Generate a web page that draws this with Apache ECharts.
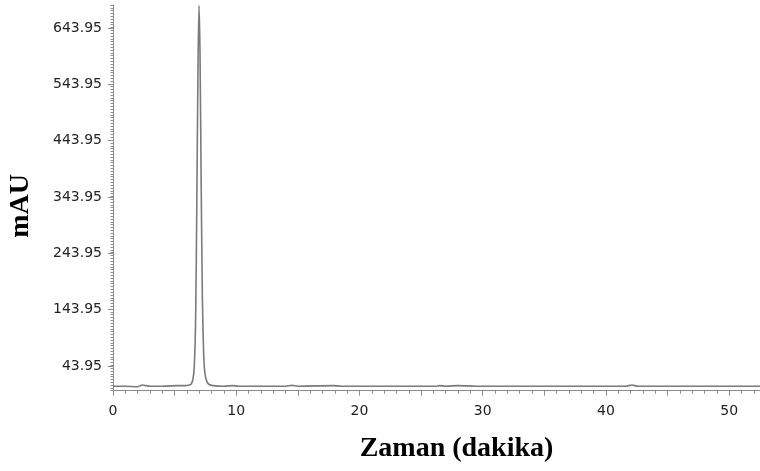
<!DOCTYPE html>
<html>
<head>
<meta charset="utf-8">
<title>Kromatogram</title>
<script src="https://cdn.jsdelivr.net/npm/echarts@6/dist/echarts.min.js"></script>
<style>
  html, body { margin: 0; padding: 0; background: #ffffff; }
  #chart { width: 760px; height: 471px; }
</style>
</head>
<body>
<div id="chart"></div>
<script>
// Retention time (min) and detector response (mAU)
var times = [0, 1.0, 2.0, 2.2, 2.4, 2.7, 3.0, 4.0, 5.3, 5.8, 6.2, 6.35, 6.5, 6.6, 6.7, 6.8,
             6.9, 6.98, 7.06, 7.15, 7.25, 7.35, 7.45, 7.6, 7.8, 8.1, 9.0, 9.7, 10.2, 12.0,
             14.0, 14.5, 15.0, 17.9, 18.5, 22.0, 26.2, 26.5, 27.0, 28.0, 29.5, 30.0, 35.0,
             41.6, 42.1, 42.6, 45.0, 50.0, 52.5];
var mAU   = [8, 8, 7, 9, 10, 9, 8, 8, 9, 9, 10, 12, 22, 45, 120, 330,
             580, 684, 600, 380, 170, 70, 32, 17, 11, 9, 8, 9, 8, 8,
             8, 9.5, 8, 9, 8, 8, 8, 9, 8, 9, 8, 8, 8,
             8, 10, 8, 8, 8, 8];

// Axis tick labels
var yLabels = [43.95, 143.95, 243.95, 343.95, 443.95, 543.95, 643.95];
var xLabels = [0, 10, 20, 30, 40, 50];
var xMidTicks = [0, 5, 10, 15, 20, 25, 30, 35, 40, 45, 50];

var points = times.map(function (t, i) { return [t, mAU[i]]; });

var axisGray = '#8c8c8c';
var labelStyle = { fontFamily: 'DejaVu Sans', fontSize: 14, color: '#222' };
var titleStyle = { fontFamily: 'Liberation Serif', fontWeight: 'bold', fontSize: 28, color: '#000' };

var chart = echarts.init(document.getElementById('chart'), null, { renderer: 'canvas' });
chart.setOption({
  animation: false,
  backgroundColor: '#ffffff',
  grid: { left: 113, right: 0, top: 5, bottom: 80.3, containLabel: false, outerBoundsMode: 'none' },
  xAxis: [
    {
      type: 'value', min: 0, max: 52.5, position: 'bottom',
      name: 'Zaman (dakika)', nameLocation: 'middle', nameGap: 44,
      nameTextStyle: Object.assign({ padding: [0, 0, 0, 40] }, titleStyle),
      axisLine: { show: true, lineStyle: { color: axisGray, width: 1 } },
      axisTick: { show: true, customValues: xMidTicks, length: 5, lineStyle: { color: axisGray } },
      axisLabel: Object.assign({ customValues: xLabels, margin: 14 }, labelStyle),
      splitLine: { show: false }
    },
    {
      type: 'value', min: 0, max: 52.5, interval: 1, position: 'bottom',
      axisLine: { show: false },
      axisTick: { show: true, length: 3, lineStyle: { color: axisGray } },
      axisLabel: { show: false },
      splitLine: { show: false }
    }
  ],
  yAxis: [
    {
      type: 'value', min: 0, max: 685, position: 'left',
      name: 'mAU', nameLocation: 'middle', nameGap: 78, nameRotate: 90,
      nameTextStyle: Object.assign({ padding: [0, 16, 0, 0] }, titleStyle),
      axisLine: { show: true, lineStyle: { color: axisGray, width: 1 } },
      axisTick: { show: true, customValues: yLabels, length: 5, lineStyle: { color: axisGray } },
      axisLabel: Object.assign({
        customValues: yLabels, margin: 11,
        formatter: function (v) { return v.toFixed(2); }
      }, labelStyle),
      splitLine: { show: false }
    },
    {
      type: 'value', min: 0, max: 685, interval: 5, position: 'left',
      axisLine: { show: false },
      axisTick: { show: true, length: 2.5, lineStyle: { color: axisGray } },
      axisLabel: { show: false },
      splitLine: { show: false }
    }
  ],
  series: [
    {
      type: 'line', xAxisIndex: 0, yAxisIndex: 0,
      data: points, showSymbol: false, smooth: 0.3,
      lineStyle: { color: '#7a7a7a', width: 1.6 },
      clip: true
    }
  ]
});
</script>
</body>
</html>
